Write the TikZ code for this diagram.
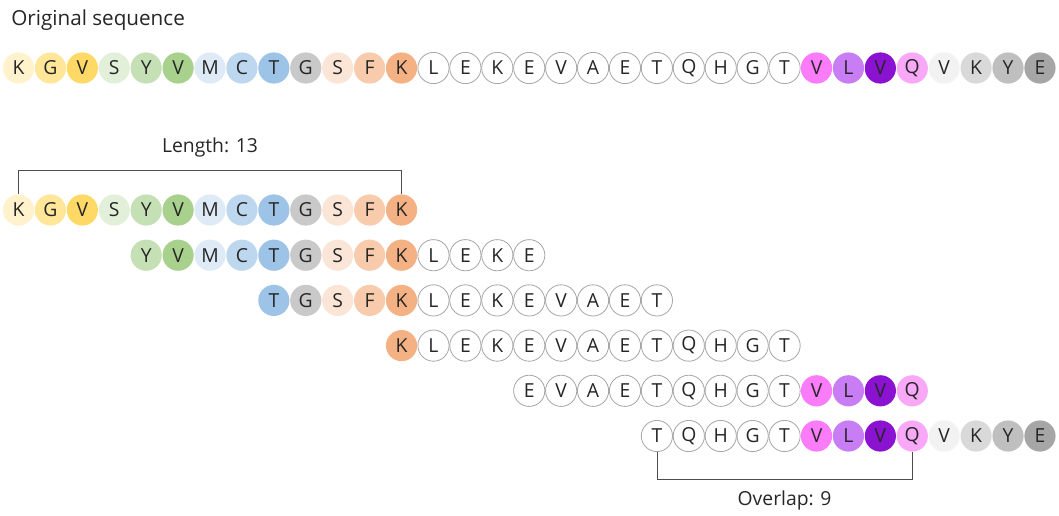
\documentclass[tikz,border=0pt]{standalone}
\usepackage{fontspec}
\setmainfont{Open Sans}
\usepackage{tikz}
\usetikzlibrary{positioning, calc}
\definecolor{ink}{HTML}{262626}
\definecolor{rimgray}{HTML}{A6A6A6}
\definecolor{barline}{HTML}{4D4D4D}
% residue tints
\definecolor{ylwA}{HTML}{FFF2CC}
\definecolor{ylwB}{HTML}{FFE699}
\definecolor{ylwC}{HTML}{FFD966}
\definecolor{grnA}{HTML}{E2F0D9}
\definecolor{grnB}{HTML}{C5E0B4}
\definecolor{grnC}{HTML}{A9D18E}
\definecolor{bluA}{HTML}{DEEBF7}
\definecolor{bluB}{HTML}{BDD7EE}
\definecolor{bluC}{HTML}{9DC3E6}
\definecolor{orgA}{HTML}{FBE5D6}
\definecolor{orgB}{HTML}{F8CBAD}
\definecolor{orgC}{HTML}{F4B183}
\definecolor{pnkA}{HTML}{FA7CF8}
\definecolor{vioA}{HTML}{C97DF4}
\definecolor{vioB}{HTML}{8B12D0}
\definecolor{pnkB}{HTML}{F8A8F6}
\definecolor{gryA}{HTML}{C9C9C9}
\definecolor{gryB}{HTML}{F2F2F2}
\definecolor{gryC}{HTML}{D9D9D9}
\definecolor{gryD}{HTML}{BFBFBF}
\definecolor{gryE}{HTML}{A6A6A6}
\tikzset{
  % --- residue circles ---
  residue/.style={circle, minimum size=23.4pt, inner sep=0pt, line width=0.6pt,
    text=ink, font=\fontsize{14.5}{17}\selectfont},
  % --- brackets and captions ---
  bracket/.style={draw=barline, line width=0.6pt},
  caption/.style={text=ink, inner sep=0pt, font=\fontsize{14.5}{17}\selectfont},
}
% letters and fill colours by position in the sequence
\newcommand\seqletters{{"K","G","V","S","Y","V","M","C","T","G","S","F","K",
  "L","E","K","E","V","A","E","T","Q","H","G","T",
  "V","L","V","Q","V","K","Y","E"}}
\newcommand\seqtints{{"ylwA","ylwB","ylwC","grnA","grnB","grnC","bluA","bluB","bluC",
  "gryA","orgA","orgB","orgC",
  "white","white","white","white","white","white","white","white","white","white","white","white",
  "pnkA","vioA","vioB","pnkB","gryB","gryC","gryD","gryE"}}

\begin{document}
\begin{tikzpicture}[x=0.75pt, y=-0.75pt]
    \useasboundingbox (0,0) rectangle (1059,515);
    \node[caption, anchor=west, font=\fontsize{15.5}{18}\selectfont] (title) at (11,20) {Original sequence};
    % rows: index / first position / last offset / y
    \foreach \row/\st/\num/\yy in {0/0/32/68, 1/0/12/210, 2/4/12/255.2, 3/8/12/300.4,
        4/12/12/345.6, 5/16/12/390.8, 6/20/12/436}{
      \foreach \k in {0,...,\num}{
        \pgfmathtruncatemacro\j{\st+\k}
        \pgfmathsetmacro\res{\seqletters[\j]}
        \pgfmathsetmacro\tint{\seqtints[\j]}
        \ifnum\j>12 \ifnum\j<25 \def\rim{rimgray}\else\def\rim{none}\fi\else\def\rim{none}\fi
        \node[residue, fill=\tint, draw=\rim] (r\row-\k) at ({18.5+31.92*\j}, \yy) {\res};
      }
    }
    % window length
    \draw[bracket] (r1-0.north) -- ++(0,-24) -| (r1-12.north)
      node[caption, pos=0.25, above=9.5pt] (lenlab) {Length: 13};
    % overlap of the last two windows
    \draw[bracket] (r6-0.south) -- ++(0,27.5) -| (r6-8.south)
      node[caption, pos=0.25, below=8.5pt] (ovllab) {Overlap: 9};
  \end{tikzpicture}
\end{document}
